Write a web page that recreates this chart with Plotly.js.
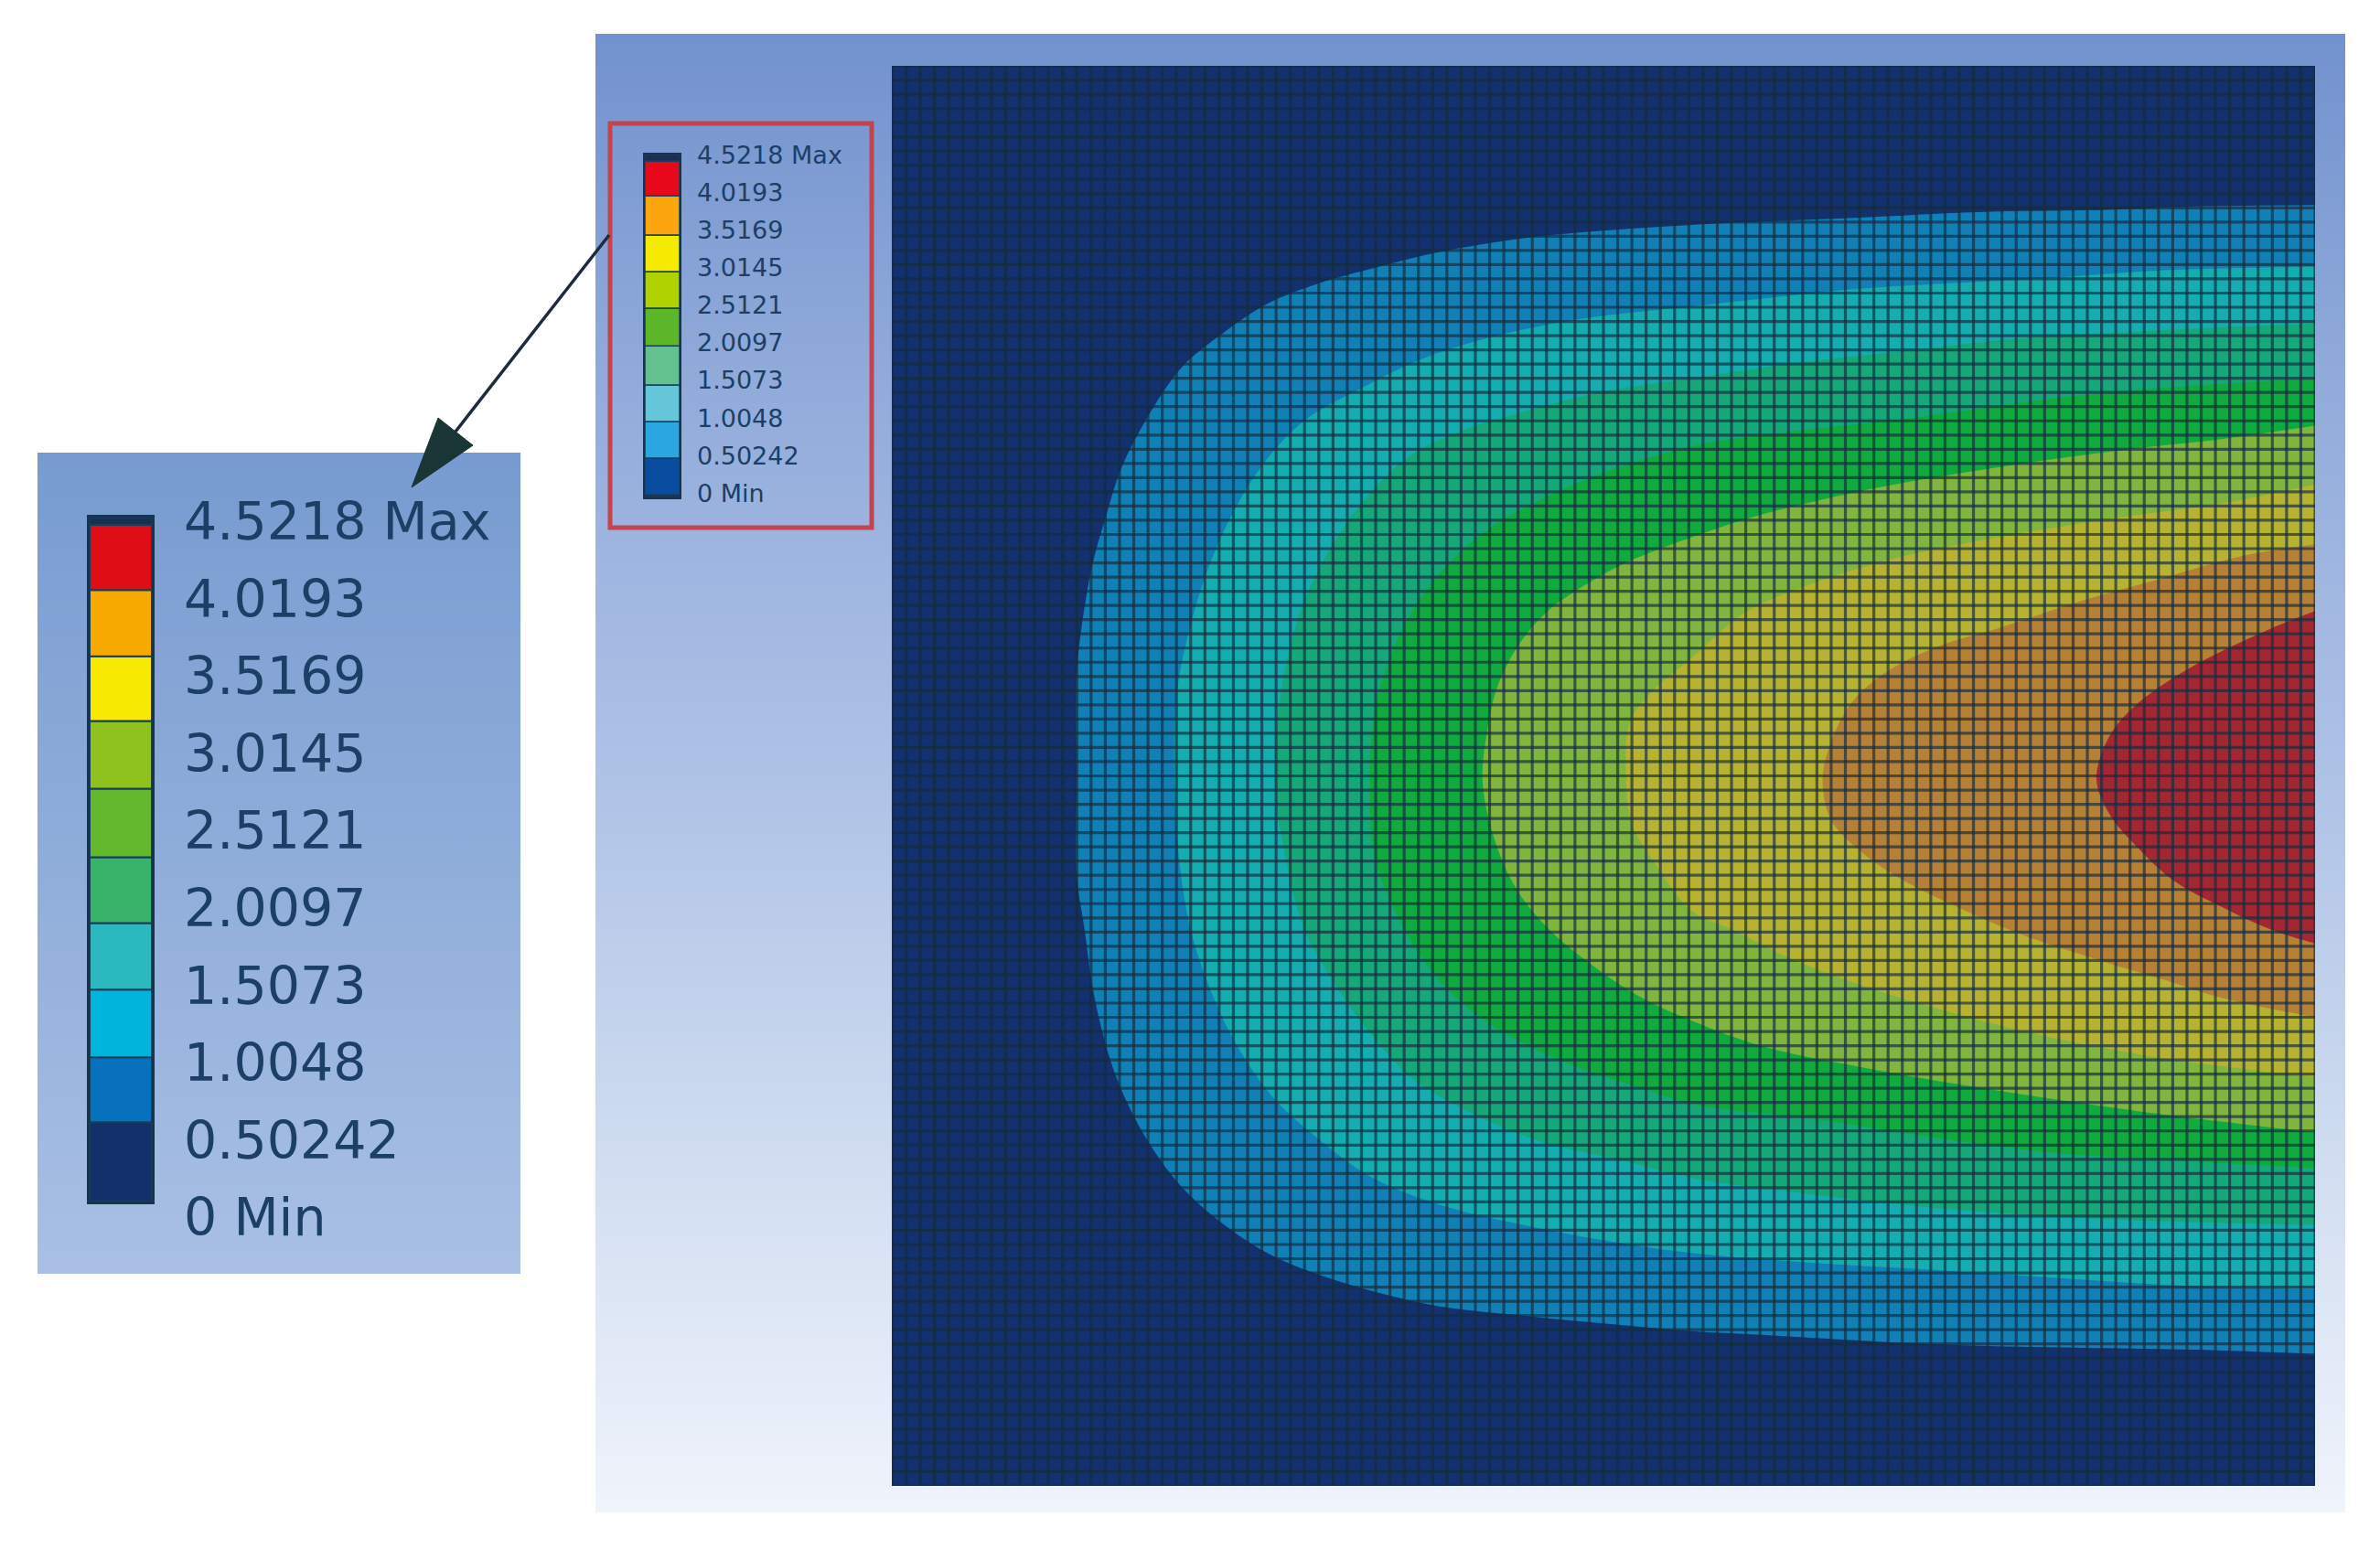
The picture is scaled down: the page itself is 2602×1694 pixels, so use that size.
<!DOCTYPE html>
<html><head><meta charset="utf-8">
<script src="https://cdn.plot.ly/plotly-3.0.1.min.js"></script>
<style>html,body{margin:0;padding:0;background:#fff}#chart{width:2602px;height:1694px}</style>
</head><body><div id="chart"></div>
<script>
// Level labels of the result legend
const levelValues = [4.5218,4.0193,3.5169,3.0145,2.5121,2.0097,1.5073,1.0048,0.50242,0];
const levelLabels = ['4.5218 Max','4.0193','3.5169','3.0145','2.5121','2.0097','1.5073','1.0048','0.50242','0 Min'];

// Legend colour bars (from the bottom up)
const bigBandEdges = [0,0.525,0.954,1.401,1.841,2.276,2.729,3.176,3.604,4.042,4.474,4.5218];
const bigBandColors = ['#12306a','#0670bd','#00b4dc','#2ab9be','#37b36a','#63b82e','#8fc21e','#f7ea00','#f8a900','#de0d16','#17304f'];
const smallBandEdges = [0,0.036,0.518,1.001,1.483,2.0,2.496,2.978,3.461,3.979,4.437,4.5218];
const smallBandColors = ['#17304f','#0a4ca0','#2ba6e0','#65c6d9','#63c18f','#5db62a','#afd200','#f5ea00','#fba60e','#e8081c','#1b2f55'];

// Contour boundaries on the 100 x 100 element mesh
const c0502X = [100,91.5,84.9,76.3,67.7,61.4,56.2,50,44.25,38.5,34.2,29.9,26.5,23.3,20.4,17.85,16.1,15,14.1,13.4,12.97,12.97,12.97,13.55,14.1,15,16.1,17.85,20.15,22.7,26.2,29.9,34.2,38.5,44.25,50,56.2,61.1,70.6,79.2,91.5,100];
const c0502Y = [9.8,9.9,10.15,10.3,10.7,10.95,11.2,11.6,12.15,13.1,14.15,15.35,16.7,18.8,21.2,24.94,28.4,31.87,35.07,39.06,43.06,50.2,56.85,60.85,64.85,68.84,72.04,75.5,78.7,81.1,83.5,85.1,86.4,87.36,88,88.55,89.1,89.36,89.9,90.2,90.4,90.7];
const c1005X = [100,89.2,81.2,73.45,67.4,56.2,50,45.7,41.7,37.1,32.8,29.05,26.2,23.9,22.15,20.86,20,19.86,20.15,21,22.4,24.16,26.75,29.9,33.6,38.5,44.25,50,56.2,64.85,73.45,82.05,90.7,100];
const c1005Y = [14.15,14.4,14.95,15.35,15.75,16.95,17.6,18.3,19.2,20.7,22.8,24.94,27.9,31.6,35.6,39.9,44.4,50.2,55.5,60.85,65.1,68.84,72.6,75.5,78.2,80.2,81.6,82.7,83.6,84.3,84.8,85.36,85.9,86.16];
const c1507X = [100,87.8,79.2,70.6,63.4,56.2,50,44.25,39.95,36.2,32.8,30.2,28.5,27.3,26.9,27.6,29,30.75,33.35,36.5,40.5,45.7,51.4,56.2,64.85,74.9,84.9,100];
const c1507Y = [18.15,18.7,19.2,20.14,20.94,22,22.94,24.4,25.74,27.6,31.07,35.07,39.06,44.4,50.2,55.5,60.85,64.05,67.8,71.24,73.64,75.77,77.1,78.3,79.5,80.56,81.2,81.63];
const c2010X = [100,87.8,79.2,70.6,63.4,56.2,50,45.7,42.25,39.1,36.5,34.8,33.9,33.6,33.9,35.35,37.35,39.95,43.4,48,52.85,56.2,64.85,73.45,82.05,90.7,100];
const c2010Y = [22,22.8,23.74,24.94,25.74,26.8,28.67,30.5,32.4,35.07,38.5,42.26,45.7,50.2,55.5,59.5,62.98,65.9,68.3,70.44,72.04,73.1,74.17,75.5,76.57,77.1,77.63];
const c2512X = [100,93.5,86.35,77.75,69.1,61.1,56.2,51.4,48.55,45.97,43.96,42.5,41.8,41.5,42.1,43.7,45.97,49.1,52.3,56.2,61.4,69.1,77.75,87.8,100];
const c2512Y = [25.34,26.27,27.07,28.27,29.74,31.6,33.2,35.07,36.66,38.5,40.9,43.86,47.06,50.2,53.65,57.65,60.6,63.25,65.4,67.24,69.1,70.7,72.17,73.64,75.1];
const c3015X = [100,93.5,84.9,77.75,70.6,64.85,59.96,56.2,53.4,51.85,51.6,52,53.7,56.2,59.1,63.4,67.7,72.3,79.2,87.8,100];
const c3015Y = [29.47,30.8,32,33.2,34.66,36.4,38.5,41.7,44.1,46.26,50.2,53.4,56.3,59.5,60.85,62.98,64.6,66.05,67.9,69.64,71.24];
const c3517X = [100,94.97,89.2,83.5,77.75,73.45,69.7,67.4,66,65.4,66,68.3,71.15,74.9,79.2,84.9,89.2,93.5,100];
const c3517Y = [33.7,34.5,36.1,37.7,39.6,40.9,42.8,44.9,47.6,50.2,53.1,55.5,57.4,59.25,61.1,63,64.3,65.65,67];
const c4019X = [100,96.97,93.5,90.1,87.2,85.5,84.64,85.5,87.5,90.1,93.5,96.97,100];
const c4019Y = [38.4,39.6,41.2,43.06,45.2,47.3,50.2,52.6,55,57.4,59.25,60.85,61.8];

const meshBaseX = [0,100,100,0];
const meshBaseY = [0,0,100,100];
const meshDivisions = 100;
const contourColors = ['#13306f','#1180b6','#15adb0','#16a878','#10aa3e','#80b540','#b7b232','#b68037','#a32732'];

const W = 2602, H = 1694;
const fx = (a,b) => [a/W, b/W];
const fy = (top,bottom) => [1-bottom/H, 1-top/H];

const fills = [
  [meshBaseX,meshBaseY],[c0502X,c0502Y],[c1005X,c1005Y],[c1507X,c1507Y],[c2010X,c2010Y],
  [c2512X,c2512Y],[c3015X,c3015Y],[c3517X,c3517Y],[c4019X,c4019Y]
];
const traces = [];

function panel(x0,x1,y0,y1,stops){
  traces.push({type:'scatter',mode:'lines',x:[x0,x1,x1,x0],y:[y0,y0,y1,y1],fill:'toself',
    line:{width:0,color:'rgba(0,0,0,0)'},
    fillgradient:{type:'vertical',colorscale:stops},hoverinfo:'skip',showlegend:false,xaxis:'x',yaxis:'y'});
}
panel(651,2564,37,1654,[[0,'#f0f4fb'],[0.25,'#cfdcf0'],[0.5,'#aec2e6'],[0.75,'#93acdb'],[1,'#7292ce']]);
panel(41,569,495,1393,[[0,'#a9c0e4'],[1,'#779bd0']]);

fills.forEach((f,i)=>traces.push({type:'scatter',mode:'lines',x:f[0],y:f[1],fill:'toself',
  fillcolor:contourColors[i],line:{width:0,color:'rgba(0,0,0,0)',shape:i?'spline':'linear',smoothing:1},
  hoverinfo:'skip',showlegend:false,xaxis:'x2',yaxis:'y2'}));

const mx=[], my=[];
for(let i=0;i<=meshDivisions;i++){
  mx.push(i,i,null,0,meshDivisions,null);
  my.push(0,meshDivisions,null,i,i,null);
}
traces.push({type:'scatter',mode:'lines',x:mx,y:my,connectgaps:false,
  line:{width:3.2,color:'rgba(20,44,62,0.68)'},hoverinfo:'skip',showlegend:false,xaxis:'x2',yaxis:'y2'});

function bars(edges,colors,xa,ya,lw){
  traces.push({type:'bar',x:colors.map(()=>0),y:colors.map((c,i)=>edges[i+1]-edges[i]),base:colors.map((c,i)=>edges[i]),
    width:1,marker:{color:colors,line:{color:'#14405c',width:lw}},hoverinfo:'skip',showlegend:false,xaxis:xa,yaxis:ya});
}
function labels(xa,ya,size){
  traces.push({type:'scatter',mode:'text',x:levelValues.map(()=>0),y:levelValues,text:levelLabels,
    textposition:'middle right',textfont:{family:'DejaVu Sans',size:size,color:'#1c3f66'},cliponaxis:false,
    hoverinfo:'skip',showlegend:false,xaxis:xa,yaxis:ya});
}
bars(bigBandEdges,bigBandColors,'x3','y3',2);
labels('x4','y4',57);
bars(smallBandEdges,smallBandColors,'x5','y5',1.5);
labels('x6','y6',27);

const off = {visible:false,fixedrange:true};
const frame = (w)=>({visible:true,showticklabels:false,ticks:'',showgrid:false,zeroline:false,showline:true,mirror:true,linecolor:'#17344f',linewidth:w,fixedrange:true});
const layout = {
  width:W,height:H,autosize:false,margin:{l:0,r:0,t:0,b:0,pad:0},
  paper_bgcolor:'#ffffff',plot_bgcolor:'rgba(0,0,0,0)',showlegend:false,barmode:'overlay',bargap:0,
  xaxis:{...off,domain:[0,1],range:[0,W]},
  yaxis:{...off,domain:[0,1],range:[H,0]},
  xaxis2:{...off,domain:fx(975,2531),range:[0,100],anchor:'y2'},
  yaxis2:{...off,domain:fy(72,1625),range:[100,0],anchor:'x2'},
  xaxis3:{...frame(3),domain:fx(98,166),range:[-0.5,0.5],anchor:'y3'},
  yaxis3:{...frame(3),domain:fy(566,1314),range:[0,4.5218],anchor:'x3'},
  xaxis4:{...off,domain:fx(201,560),range:[0,1],anchor:'y4'},
  yaxis4:{...off,domain:fy(576,1337),range:[0,4.5218],anchor:'x4'},
  xaxis5:{...frame(2),domain:fx(705,743),range:[-0.5,0.5],anchor:'y5'},
  yaxis5:{...frame(2),domain:fy(169,544),range:[0,4.5218],anchor:'x5'},
  xaxis6:{...off,domain:fx(762,945),range:[0,1],anchor:'y6'},
  yaxis6:{...off,domain:fy(172,542),range:[0,4.5218],anchor:'x6'},
  shapes:[
    {type:'rect',xref:'x',yref:'y',x0:667,x1:953,y0:135,y1:577,line:{color:'#c4434f',width:5},layer:'above'},
    {type:'line',xref:'x',yref:'y',x0:666,y0:257,x1:498,y1:472,line:{color:'#1d2b3c',width:3.5},layer:'above'},
    {type:'path',xref:'x',yref:'y',path:'M 450 533 L 479 457 L 517 487 Z',fillcolor:'#1a3536',line:{color:'#1a3536',width:1},layer:'above'}
  ]
};
Plotly.newPlot('chart',traces,layout,{staticPlot:true,displayModeBar:false});
</script></body></html>
